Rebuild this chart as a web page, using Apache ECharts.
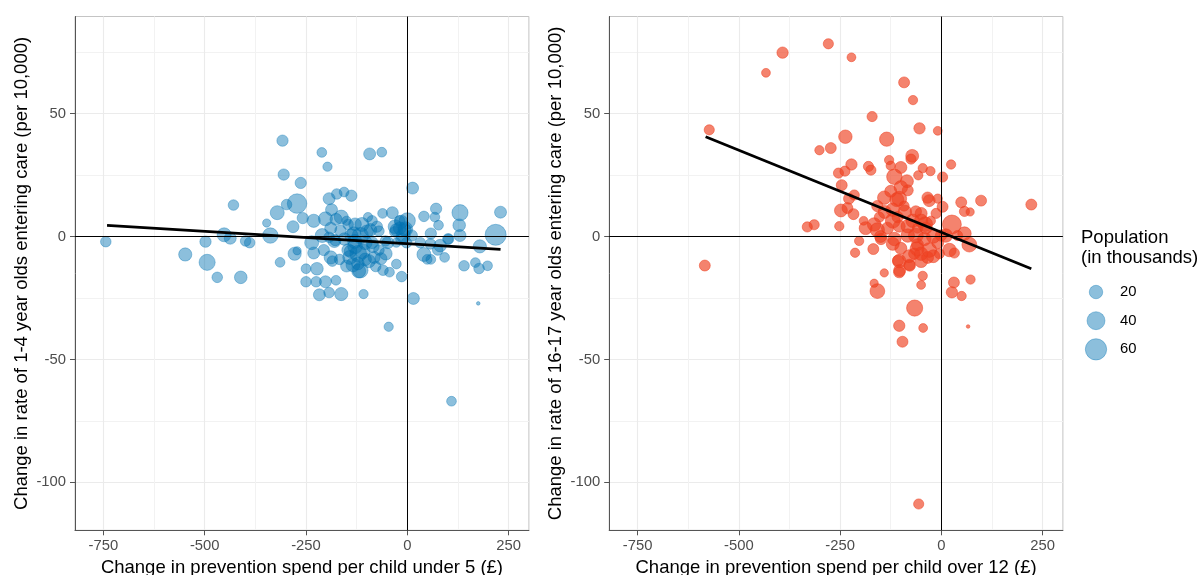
<!DOCTYPE html>
<html>
<head>
<meta charset="utf-8">
<script src="https://cdn.jsdelivr.net/npm/echarts@6/dist/echarts.min.js"></script>
<style>
html,body{margin:0;padding:0;background:#fff;}
#chart{width:1201px;height:575px;}
</style>
</head>
<body>
<div id="chart"></div>
<script>
// ---- Data ----
// Left panel: change in prevention spend per child under 5 (£), change in rate of 1-4 year olds entering care, population (thousands)
const spendUnder5 = [-744,-548,-494,-498,-469,-429,-452,-437,-411,-399,-389,-347,-338,-321,-308,-305,-314,-298,-272,-282,-263,-258,-278,-272,-250,-250,-223,-225,-217,-211,-197,-231,-236,-231,-202,-193,-176,-163,-193,-174,-156,-138,-187,-202,-163,-210,-189,-180,-206,-189,-185,-150,-155,-138,-112,-116,-129,-121,-134,-116,-108,-93,-63,-97,-91,-87,-82,-78,-61,-37,-70,-54,-53,-44,-60,-27,-14,-46,-31,-19,-14,-6,0,-2,13,15,41,32,41,49,58,58,71,68,77,75,92,100,109,130,128,130,140,168,177,179,198,175,218,230,-146,-142,-104,-104,-70,-146,-27,-10,-167,-87,-48,-27,11,-193,-19,-122,81,102,57,-176,-129,-132,-165,-178,-130,-110,-95,-120,-140,-85,-65,-100,-150,-75,-30,-15,-5];
const rate1to4 = [-2.1,-7.3,-10.5,-2.1,-16.6,12.8,0.7,-0.7,-16.6,-1.8,-2.5,5.5,0.4,9.7,39.0,25.2,-10.5,13.0,13.4,4.0,21.8,7.5,-7.0,-5.8,-13.1,-18.4,-13.1,-18.4,-23.7,34.2,28.4,6.4,-2.5,-6.7,-18.4,-22.8,-17.8,-23.4,15.4,17.3,18.1,16.6,10.9,7.2,7.9,0.4,3.4,-1.8,-5.5,-8.5,-10.0,6.4,-1.0,0.4,4.9,0.4,-4.0,-7.0,-11.5,-13.7,-23.4,33.6,34.3,7.9,2.7,-2.5,-8.5,-12.2,9.4,9.7,2.2,-1.8,-7.0,-14.5,-13.7,-11.2,-16.3,-36.7,1.9,3.4,-1.0,2.7,6.4,-2.5,19.7,-25.2,8.2,-2.5,-7.3,-9.3,-9.3,1.2,11.3,7.9,4.6,-5.5,-8.5,-1.0,-67.0,9.7,4.6,0.4,-11.9,-10.6,-13.0,-4.0,-11.9,-27.2,0.7,9.9,-5.5,-8.5,-2.5,-9.3,-5.5,4.9,2.7,0.4,-9.3,6.4,-2.5,-2.5,0.4,-0.3,6.4,-11.0,-3.7,-1.0,-3.0,7.0,5.0,1.1,2.4,-1.6,-2.0,-6.0,-10.0,-14.0,-6.0,-4.0,-9.0,2.0,-12.0,4.0,4.0,6.0,3.0];
const popLeft = [11,19,31,13,11,11,22,15,17,11,11,6,28,22,13,13,9,11,49,15,13,13,19,6,9,11,17,11,15,9,8,19,22,15,15,11,9,19,15,11,9,13,15,22,22,22,15,19,13,19,11,8,17,19,22,31,25,34,22,28,8,15,9,8,17,15,15,11,9,15,11,11,17,9,11,9,11,8,11,17,15,17,31,11,15,15,11,11,22,9,9,13,13,9,9,11,9,11,9,31,17,15,11,9,11,19,9,2,58,15,17,22,22,17,11,11,17,22,11,11,15,8,13,11,11,17,17,11,11,15,17,22,13,11,22,25,19,22,17,17,15,19,15,13,22,19,25];

// Right panel: change in prevention spend per child over 12 (£), change in rate of 16-17 year olds entering care, population (thousands)
const spendOver12 = [-584,-573,-433,-392,-279,-222,-92,-70,-171,-54,-9,-237,-135,-301,-273,-72,-75,-129,24,-222,-180,-174,-254,-238,-125,-100,-46,-27,-57,3,-116,-85,-246,-215,-228,-141,-125,-83,-104,-34,-30,-9,3,49,98,222,57,71,-248,-232,-217,-158,-120,-63,-50,-13,-331,-314,-252,-192,-187,-166,-158,-120,-104,-83,-71,-50,-38,-26,26,57,69,40,-203,-213,-168,-149,-116,-100,-104,-79,-104,-141,-166,-158,-67,-50,-30,-42,-9,-5,20,32,-46,-50,31,26,50,72,-66,-104,-45,-96,66,-56,11,-1,-63,-83,-133,-59,-34,-153,-92,-108,-59,-103,-78,-107,-110,-90,-60,-40,-20,-120,-80,-140,-100,-50,-20,-150];
const rate16to17 = [-11.8,43.4,66.6,74.8,78.4,72.9,62.7,55.5,48.8,44.0,43.0,40.6,39.6,35.1,36.0,32.8,31.5,31.1,29.3,29.3,28.5,27.0,25.8,26.6,28.8,28.1,27.8,26.6,24.9,24.2,24.3,22.5,20.9,16.9,15.4,15.8,18.4,18.8,15.4,15.8,14.6,15.4,12.1,13.9,14.6,13.0,10.2,10.0,10.6,11.6,9.1,12.4,10.9,10.2,9.4,9.4,3.9,4.8,4.2,6.4,3.4,4.9,2.7,6.4,4.2,4.2,6.4,6.4,3.4,6.4,4.9,1.2,-3.3,0.4,-1.8,-6.6,-5.1,-1.0,-1.0,-4.8,-10.0,-11.5,-14.5,-14.8,-19.0,-22.2,-7.0,-7.0,-5.5,-1.0,-2.5,-7.0,-5.5,-6.7,-16.0,-19.7,-18.7,-22.7,-24.2,-17.5,-29.1,-36.3,-37.2,-42.8,-36.6,-108.8,0.4,0.4,0.4,0.4,3.4,-3.3,-8.5,7.9,12.4,7.9,3.4,-13.8,-11.8,-9.8,15.0,10.0,-5.0,5.0,0.0,-3.0,-8.0,10.0,20.0,-10.0,-8.0,0.0];
const popRight = [12,10,7,13,10,7,12,8,10,13,7,20,23,8,12,18,10,8,8,13,10,10,10,10,8,15,8,8,8,10,28,18,12,10,12,20,15,12,25,13,15,8,12,12,12,12,10,6,18,12,12,13,20,13,15,10,10,10,8,7,18,20,23,25,15,20,20,20,15,8,45,20,25,10,8,8,12,13,20,15,20,13,13,6,6,25,13,20,25,20,15,10,20,10,8,7,12,13,8,8,31,13,7,12,2,10,20,13,25,20,15,15,15,10,10,13,10,15,13,12,22,20,22,25,20,18,18,18,20,18,18,15];

// Fitted trend lines (end points)
const trendLeftX = [-741, 230];
const trendLeftY = [4.5, -5.2];
const trendRightX = [-582, 222];
const trendRightY = [40.6, -13.1];

// Axis ticks
const xTicks = [-750, -500, -250, 0, 250];
const xMinorTicks = [-625, -375, -125, 125];
const yTicks = [-100, -50, 0, 50];
const yMinorTicks = [-75, -25, 25, 75];
const xRange = [-820, 300];
const yRange = [-119.5, 89.5];

// Legend
const legendPops = [20, 40, 60];
const legendLabels = ['20', '40', '60'];

// ---- Helpers ----
const sizeFor = p => 3.6 + 19.2 * Math.sqrt(Math.max(p - 2, 0) / 68);
const zip3 = (a, b, c) => a.map((v, i) => [v, b[i], c[i]]);
const zip2 = (a, b) => a.map((v, i) => [v, b[i]]);

const FONT = "'Liberation Sans', Arial, Helvetica, sans-serif";
const BLUE = '#0072B2';
const RED = '#EE4020';

const chart = echarts.init(document.getElementById('chart'), null, {renderer: 'canvas'});

function majorX(gridIndex, name) {
  return {
    type: 'value', gridIndex, min: xRange[0], max: xRange[1],
    position: 'bottom',
    name, nameLocation: 'middle', nameGap: 26,
    nameTextStyle: {fontFamily: FONT, fontSize: 18.5, color: '#000'},
    axisLine: {show: true, onZero: false, lineStyle: {color: '#555', width: 1}},
    axisTick: {show: true, inside: false, length: 5, lineStyle: {color: '#555'}, customValues: xTicks},
    axisLabel: {show: true, margin: 8, fontFamily: FONT, fontSize: 14.8, color: '#4d4d4d', customValues: xTicks},
    splitLine: {show: true, lineStyle: {color: '#ebebeb', width: 1.1}},
    z: 1
  };
}
function minorX(gridIndex) {
  return {
    type: 'value', gridIndex, min: xRange[0], max: xRange[1], position: 'top',
    axisLine: {show: false}, axisLabel: {show: false},
    axisTick: {show: false, customValues: xMinorTicks},
    splitLine: {show: true, lineStyle: {color: '#f2f2f2', width: 1}}
  };
}
function majorY(gridIndex, name) {
  return {
    type: 'value', gridIndex, min: yRange[0], max: yRange[1],
    position: 'left',
    name, nameLocation: 'middle', nameGap: 44, nameRotate: 90,
    nameTextStyle: {fontFamily: FONT, fontSize: 18.5, color: '#000'},
    axisLine: {show: true, onZero: false, lineStyle: {color: '#555', width: 1}},
    axisTick: {show: true, inside: false, length: 5, lineStyle: {color: '#555'}, customValues: yTicks},
    axisLabel: {show: true, margin: 9, fontFamily: FONT, fontSize: 14.8, color: '#4d4d4d', customValues: yTicks},
    splitLine: {show: true, lineStyle: {color: '#ebebeb', width: 1.1}}
  };
}
function minorY(gridIndex) {
  return {
    type: 'value', gridIndex, min: yRange[0], max: yRange[1], position: 'right',
    axisLine: {show: false}, axisLabel: {show: false},
    axisTick: {show: false, customValues: yMinorTicks},
    splitLine: {show: true, lineStyle: {color: '#f2f2f2', width: 1}}
  };
}

function scatterSeries(xi, yi, data, color, opacity) {
  return {
    type: 'scatter', xAxisIndex: xi, yAxisIndex: yi, data,
    symbol: 'circle',
    symbolSize: v => sizeFor(v[2]),
    itemStyle: {color, opacity, borderColor: color, borderWidth: 0.8},
    emphasis: {disabled: true},
    silent: true, z: 2,
    markLine: {
      silent: true, symbol: ['none', 'none'],
      label: {show: false},
      lineStyle: {color: '#000', width: 1, type: 'solid'},
      emphasis: {disabled: true},
      data: [{xAxis: 0}, {yAxis: 0}],
      animation: false
    }
  };
}
function trendSeries(xi, yi, data) {
  return {
    type: 'line', xAxisIndex: xi, yAxisIndex: yi, data,
    symbol: 'none', silent: true, z: 5,
    lineStyle: {color: '#000', width: 2.8},
    emphasis: {disabled: true}
  };
}

const option = {
  backgroundColor: '#fff',
  animation: false,
  textStyle: {fontFamily: FONT},
  title: {
    text: 'Population\n(in thousands)',
    left: 1081, top: 228, padding: 0,
    textStyle: {fontFamily: FONT, fontSize: 18.5, fontWeight: 'normal', color: '#000', lineHeight: 20}
  },
  grid: [
    {left: 75, right: 672.1, top: 16.5, bottom: 44.7, show: true, borderColor: '#c4c4c4', borderWidth: 1, backgroundColor: 'transparent', containLabel: false, outerBoundsMode: 'none'},
    {left: 609.2, right: 138.1, top: 16.5, bottom: 44.7, show: true, borderColor: '#c4c4c4', borderWidth: 1, backgroundColor: 'transparent', containLabel: false, outerBoundsMode: 'none'},
    {left: 1086, width: 20, top: 277.7, height: 86, show: false, containLabel: false, outerBoundsMode: 'none'}
  ],
  xAxis: [
    majorX(0, 'Change in prevention spend per child under 5 (£)'),
    majorX(1, 'Change in prevention spend per child over 12 (£)'),
    minorX(0),
    minorX(1),
    {type: 'value', gridIndex: 2, min: 0, max: 2, show: false}
  ],
  yAxis: [
    majorY(0, 'Change in rate of 1-4 year olds entering care (per 10,000)'),
    majorY(1, 'Change in rate of 16-17 year olds entering care (per 10,000)'),
    minorY(0),
    minorY(1),
    {
      type: 'category', gridIndex: 2, data: legendLabels, inverse: true, position: 'right',
      axisLine: {show: false}, axisTick: {show: false}, splitLine: {show: false},
      axisLabel: {show: true, margin: 14, fontFamily: FONT, fontSize: 14.8, color: '#000', align: 'left'}
    }
  ],
  series: [
    scatterSeries(0, 0, zip3(spendUnder5, rate1to4, popLeft), BLUE, 0.45),
    trendSeries(0, 0, zip2(trendLeftX, trendLeftY)),
    scatterSeries(1, 1, zip3(spendOver12, rate16to17, popRight), RED, 0.65),
    trendSeries(1, 1, zip2(trendRightX, trendRightY)),
    {
      type: 'scatter', xAxisIndex: 4, yAxisIndex: 4,
      data: legendPops.map((p, i) => [1, legendLabels[i], p]),
      symbol: 'circle',
      symbolSize: v => sizeFor(v[2]),
      itemStyle: {color: BLUE, opacity: 0.45, borderColor: BLUE, borderWidth: 0.8},
      silent: true, emphasis: {disabled: true}
    }
  ]
};
chart.setOption(option);
</script>
</body>
</html>
